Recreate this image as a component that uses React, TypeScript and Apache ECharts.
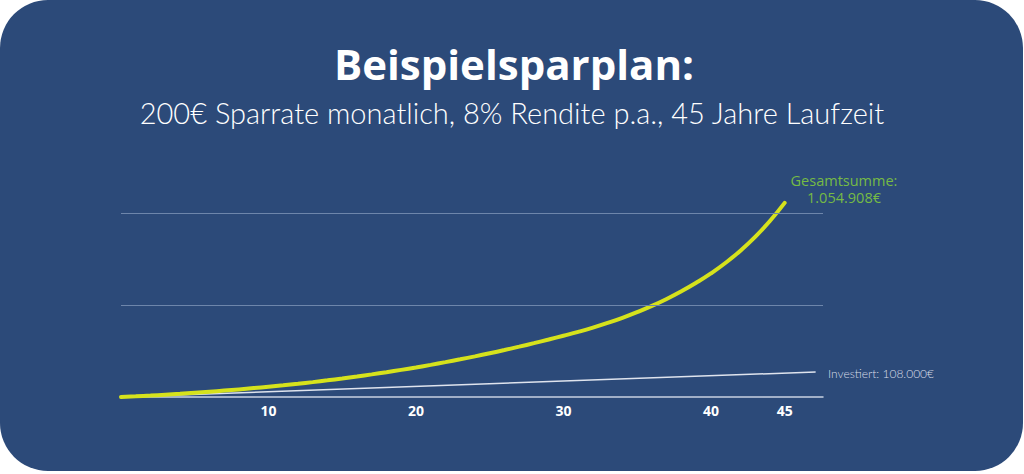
import React, { useEffect, useRef } from "react";
import * as echarts from "echarts";

// Jahre 0..45 und Gesamtwert
const years = Array.from({ length: 46 }, (_, i) => i);
const gesamtValues = [
  0, 3600, 7700, 12300, 17300, 22700, 28500, 34700, 41300, 48300,
  55700, 63500, 71900, 80900, 90500, 100700, 111500, 122900, 134900, 147500,
  160700, 174700, 189400, 204800, 220900, 237700, 255200, 273500, 292600, 312500,
  333000, 354000, 377000, 402500, 430500, 461500, 495500, 533000, 574500, 620500,
  671500, 729500, 795500, 870500, 956500, 1054908,
];
const investYears = [0, 47.1];
const investValues = [0, 136000];
const xTickLabels = [10, 20, 30, 40, 45];
const gridLines = [500000, 1000000];

const BG = "#2c4a79";

export default function App() {
  const ref = useRef<HTMLDivElement>(null);
  useEffect(() => {
    const chart = echarts.init(ref.current!, null, { renderer: "svg" });
    chart.setOption({
      animation: false,
      backgroundColor: "#ffffff",
      graphic: [
        {
          type: "rect",
          z: -10,
          silent: true,
          shape: { x: 0, y: 0, width: 1023, height: 471, r: 48 },
          style: { fill: BG },
        },
        {
          type: "text",
          style: {
            text: "Beispielsparplan:",
            x: 514,
            y: 63,
            align: "center",
            verticalAlign: "middle",
            fill: "#ffffff",
            font: "bold 42px 'Open Sans'",
          },
        },
        {
          type: "text",
          style: {
            text: "200€ Sparrate monatlich, 8% Rendite p.a., 45 Jahre Laufzeit",
            x: 512,
            y: 112,
            align: "center",
            verticalAlign: "middle",
            fill: "#ffffff",
            font: "300 29px Lato",
          },
        },
        {
          type: "text",
          style: {
            text: "Gesamtsumme:\n1.054.908€",
            x: 844,
            y: 189,
            align: "center",
            verticalAlign: "middle",
            fill: "#76bb45",
            font: "14.5px 'Open Sans'",
            lineHeight: 17,
          },
        },
        {
          type: "text",
          style: {
            text: "Investiert: 108.000€",
            x: 828,
            y: 373,
            align: "left",
            verticalAlign: "middle",
            fill: "#d8dde8",
            font: "300 12px Lato",
          },
        },
      ],
      grid: { left: 121, right: 201, top: 194.6, bottom: 77, containLabel: false },
      xAxis: {
        type: "value",
        min: 0,
        max: 47.6,
        axisLine: { show: true, lineStyle: { color: "#c9d2e2", width: 1.5 } },
        axisTick: { show: false },
        splitLine: { show: false },
        axisLabel: {
          customValues: xTickLabels,
          color: "#ffffff",
          fontWeight: "bold",
          fontSize: 14,
          fontFamily: "'Open Sans'",
          margin: 6,
        },
      },
      yAxis: {
        type: "value",
        min: 0,
        max: 1100000,
        axisLine: { show: false },
        axisTick: { show: false },
        axisLabel: { show: false },
        splitLine: { show: false },
      },
      series: [
        {
          type: "line",
          data: investYears.map((y, i) => [y, investValues[i]]),
          symbol: "none",
          lineStyle: { color: "#dfe4ee", width: 1.5 },
          z: 2,
          markLine: {
            silent: true,
            symbol: "none",
            label: { show: false },
            lineStyle: { color: "#6e86ab", width: 1, type: "solid" },
            data: gridLines.map((v) => ({ yAxis: v })),
          },
        },
        {
          type: "line",
          data: years.map((y, i) => [y, gesamtValues[i]]),
          symbol: "none",
          smooth: true,
          lineStyle: { color: "#d6e21c", width: 4, cap: "round" },
          z: 3,
        },
      ],
    });
    return () => chart.dispose();
  }, []);
  return (
    <div
      ref={ref}
      style={{ position: "fixed", left: 0, top: 0, width: 1024, height: 474 }}
    />
  );
}
